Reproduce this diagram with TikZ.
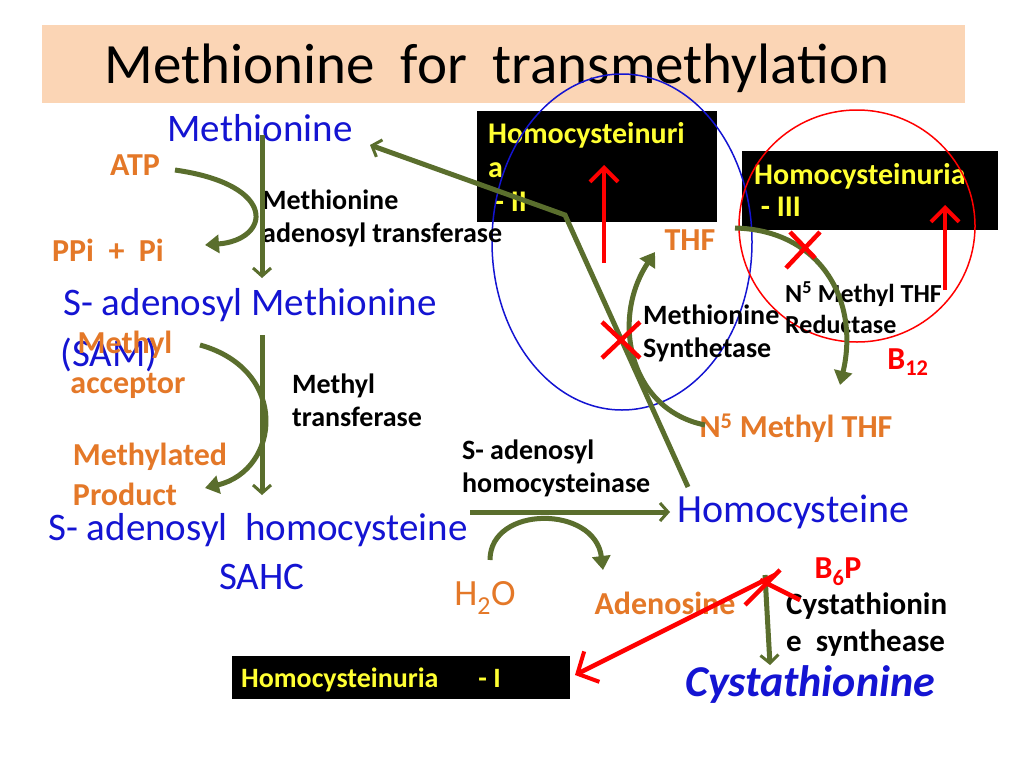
\documentclass[tikz,border=0pt]{standalone}
\usepackage{fontspec}
\setmainfont{Carlito}
\usetikzlibrary{arrows.meta}
\definecolor{peach}{RGB}{251,213,181}
\definecolor{olive}{RGB}{90,110,45}
\definecolor{orng}{RGB}{228,120,40}
\definecolor{blu}{RGB}{20,20,210}
\definecolor{ylw}{RGB}{255,255,50}
\begin{document}
\begin{tikzpicture}[x=1pt,y=-1pt,
 gr/.style={draw=olive,line width=5pt},
 va/.style={-{Straight Barb[length=8pt,width=18pt,line width=3pt]}},
 fa/.style={-{Triangle[length=14pt,width=18pt]}},
 rd/.style={draw=red,line width=4.5pt},
 bl/.style={font=\fontsize{39}{40}\selectfont,text=blu,inner sep=0pt},
 og/.style={font=\fontsize{32}{40}\selectfont\bfseries,text=orng,inner sep=0pt,align=left},
 bk/.style={font=\fontsize{28}{33}\selectfont\bfseries,text=black,inner sep=0pt,align=left}]
\useasboundingbox (0,0) rectangle (1024,768);
\fill[white] (0,0) rectangle (1024,768);
\fill[peach] (42,25) rectangle (965,103);
\node (title) at (497,68) {\fontsize{57}{60}\selectfont Methionine\ \ for\ \ transmethylation};
% boxes
\fill[black] (477,111) rectangle (717,222);
\node[text=ylw,font=\fontsize{30}{34}\selectfont\bfseries,anchor=north west,align=left,inner sep=0pt] (b2) at (488,122) {Homocysteinuri\\a\\\ - II};
\fill[black] (742,151) rectangle (998,230);
\node[text=ylw,font=\fontsize{30}{32}\selectfont\bfseries,anchor=north west,align=left,inner sep=0pt] (b3) at (754,163) {Homocysteinuria\\\ - III};
\fill[black] (232,656) rectangle (570,699);
\node[text=ylw,font=\fontsize{28}{30}\selectfont\bfseries,anchor=west,inner sep=0pt] (b1) at (241,680) {Homocysteinuria\hspace{40pt}- I};
% ellipses
\draw[blu,line width=1.5pt] (622,242) ellipse [x radius=130,y radius=168];
\draw[red,line width=1.5pt] (857,226) ellipse [x radius=118,y radius=116];
% left texts
\node[bl] (met) at (260,128) {Methionine};
\node[og] (atp) at (135,165) {ATP};
\node[og] (ppi) at (108,250) {PPi\ \ +\ \ Pi};
\node[bk,anchor=west] (mat) at (262,218) {Methionine\\adenosyl transferase};
\node[bl] (sam) at (250,305) {S- adenosyl Methionine};
\node[bl,anchor=west] (sam2) at (60,355) {(SAM)};
\node[og] (macc) at (128,365) {\ Methyl\\acceptor};
\node[bk,anchor=west] (mt) at (292,400) {Methyl\\transferase};
\node[og] (mp) at (150,474) {Methylated\\Product};
\node[bl] (sah) at (258,530) {S- adenosyl\ \ homocysteine};
\node[bl] (sahc) at (262,577) {SAHC};
\node[bk,anchor=west] (sahase) at (462,468) {S- adenosyl\\homocysteinase};
\node[bl,text=orng,font=\fontsize{37}{40}\selectfont] (h2o) at (485,598) {H\textsubscript{2}O};
\node[og] (ado) at (665,603) {Adenosine};
\node[bl,anchor=west,font=\fontsize{40}{40}\selectfont] (hcy) at (677,512) {Homocysteine};
\node[og] (thf) at (690,240) {THF};
\node[bk,anchor=west] (ms) at (643,333) {Methionine\\Synthetase};
\node[bk,anchor=west,font=\fontsize{26}{31}\selectfont\bfseries] (mtr) at (785,308) {N\textsuperscript{5}\ Methyl THF\\Reductase};
\node[og,text=red] (b12) at (908,362) {B\textsubscript{12}};
\node[og] (n5) at (796,428) {N\textsuperscript{5}\ Methyl THF};
\node[og,text=red] (b6) at (838,572) {B\textsubscript{6}P};
\node[bk,font=\fontsize{31}{37}\selectfont\bfseries,anchor=west] (cs) at (786,625) {Cystathionin\\e\ \ synthease};
\node[bl,font=\fontsize{44}{44}\selectfont\bfseries\itshape] (cyst) at (810,685) {Cystathionine};
% green arrows
\draw[gr,va] (262,135) -- (262,278);
\draw[gr,fa] (175,170) .. controls (280,185) and (270,240) .. (205,245);
\draw[gr,va] (262,335) -- (262,495);
\draw[gr,fa] (200,345) .. controls (290,370) and (280,470) .. (205,488);
\draw[gr,va] (470,512) -- (670,512);
\draw[gr,fa] (490,560) .. controls (490,505) and (595,505) .. (603,570);
\coordinate (bend) at (565,215);
\draw[gr,va] (688,487) -- (bend) -- (370,145);
\draw[gr,fa] (705,425) .. controls (630,410) and (610,320) .. (655,252);
\draw[gr,fa] (735,228) .. controls (820,230) and (860,300) .. (840,385);
\draw[gr,va] (765,575) -- (770,665);
% red
\draw[rd,-{Straight Barb[length=14pt,width=28pt,line width=4pt]}] (604,263) -- (604,165);
\draw[rd,-{Straight Barb[length=14pt,width=28pt,line width=4pt]}] (945,290) -- (945,205);
\draw[rd] (602,322) -- (640,358) (602,358) -- (640,322);
\draw[rd] (786,268) -- (820,232) (790,232) -- (815,258);
\draw[rd,-{Straight Barb[length=16pt,width=34pt,line width=4pt]}] (775,575) -- (575,675);
\draw[rd] (745,605) -- (780,570) (760,580) -- (800,600);
\end{tikzpicture}
\end{document}
